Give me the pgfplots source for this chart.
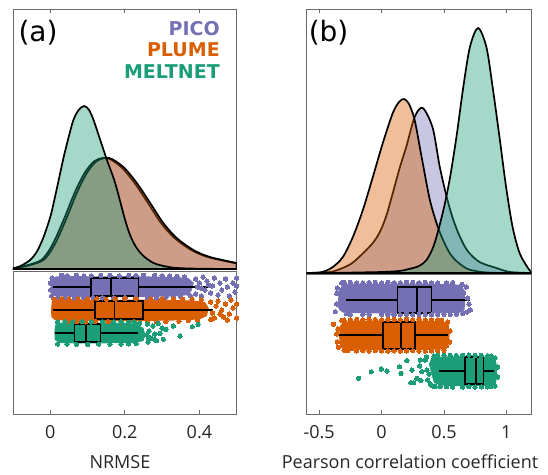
\documentclass[border=0pt]{standalone}
\usepackage{fontspec}
\setmainfont{Open Sans}
\newfontfamily\dejavu{DejaVu Sans}
\usepackage{pgfplots}
\pgfplotsset{compat=1.18}

\definecolor{pico}{HTML}{7570B3}
\definecolor{plume}{HTML}{D95F02}
\definecolor{melt}{HTML}{1B9E77}
\definecolor{framec}{HTML}{6A6A6A}
\definecolor{lbl}{HTML}{262626}

\pgfplotsset{
  rc/.style={
    scale only axis, anchor=north west,
    axis line style={framec, line width=0.9pt},
    tick style={framec, line width=0.9pt},
    major tick length=4.5pt, tick align=inside,
    ytick=\empty,
    tick label style={font=\fontsize{18}{20}\selectfont, text=lbl},
    xticklabel style={anchor=north, yshift=-8pt},
    label style={font=\fontsize{18}{20}\selectfont, text=lbl},
  },
  dens/.style={draw=black, line width=1.7pt, smooth, fill opacity=0.4},
  dots/.style={only marks, mark=*, color=#1, mark size=2.2pt, mark options={draw=#1, fill=#1, line width=0pt}},
  band/.style={fill=#1, draw=none},
  whisk/.style={draw=black, line width=1.7pt},
  boxx/.style={fill=#1, draw=black, line width=1.7pt, line join=miter},
}
\tikzset{
  legtxt/.style={anchor=base east, inner sep=0pt, font=\dejavu\bfseries\fontsize{19}{20}\selectfont, text=#1},
  panel/.style={anchor=base west, inner sep=0pt, font=\dejavu\fontsize{28}{30}\selectfont},
}

\begin{document}
\begin{tikzpicture}
\path[use as bounding box] (0,0) rectangle (548pt,474pt);

% ---------------- (a) densities
\begin{axis}[rc, at={(13pt,465pt)}, width=223.7pt, height=260pt,
  xmin=-0.1, xmax=0.5, ymin=0, ymax=260,
  xtick={0,0.2,0.4}, xticklabels={}, xtick pos=right]
\addplot[dens, fill=pico] coordinates {
 (-0.1,0.7) (-0.076,2.5) (-0.046,5.5) (-0.024,9) (-0.006,17) (0.012,29) (0.039,52)
 (0.065,76) (0.092,96) (0.119,108) (0.152,111) (0.19,102) (0.226,86) (0.262,66)
 (0.297,46) (0.333,31) (0.378,19) (0.422,12) (0.5,5.5)} \closedcycle;
\addplot[dens, fill=plume] coordinates {
 (-0.1,0.5) (-0.07,2.5) (-0.04,5.5) (-0.018,9) (0.0,17) (0.018,29) (0.045,52)
 (0.071,76) (0.098,96) (0.125,108) (0.158,111) (0.196,102) (0.232,86) (0.268,66)
 (0.303,46) (0.339,31) (0.384,19) (0.428,12) (0.5,6)} \closedcycle;
\addplot[dens, fill=melt] coordinates {
 (-0.1,0.5) (-0.08,3) (-0.054,9) (-0.035,18) (-0.018,32) (0.0,52) (0.009,66)
 (0.022,88) (0.036,112) (0.05,133) (0.062,149) (0.076,159) (0.091,163) (0.104,159)
 (0.116,149) (0.134,129) (0.152,109) (0.174,86) (0.2,50) (0.214,34) (0.23,22)
 (0.25,13) (0.277,6) (0.31,2.5) (0.34,1) (0.4,0.3) (0.5,0)} \closedcycle;
\node[panel] at (axis cs:-0.0857,227.6) {(a)};
\node[legtxt=pico] at (axis cs:0.455,233.7) {PICO};
\node[legtxt=plume] at (axis cs:0.455,212) {PLUME};
\node[legtxt=melt] at (axis cs:0.455,190) {MELTNET};
\end{axis}

% ---------------- (a) clouds and boxes
\begin{axis}[rc, at={(13pt,203pt)}, width=223.7pt, height=143pt,
  xmin=-0.1, xmax=0.5, ymin=0, ymax=143,
  xtick={0,0.2,0.4}, xticklabels={0,0.2,0.4}, xtick pos=left,
  xlabel={NRMSE},
  xlabel style={at={(axis description cs:0.478,0)}, anchor=north, inner sep=0pt, yshift=-41pt}]
% PICO
\addplot[band=pico] coordinates {
 (0.003,121) (0.002,128) (0.004,135) (0.015,137.5) (0.06,138) (0.12,137.5) (0.2,138)
 (0.27,137.5) (0.33,137) (0.37,136) (0.385,131) (0.38,124) (0.37,119) (0.33,117.5)
 (0.25,117) (0.15,117) (0.06,117) (0.012,118)};
\addplot[dots=pico] coordinates {
 (0.005,136) (0.03,138.5) (0.07,138.7) (0.11,138.3) (0.16,138.8) (0.21,138.5) (0.25,138.6)
 (0.3,138.2) (0.34,137.6) (0.004,118) (0.04,116.3) (0.09,116.5) (0.14,116.2) (0.2,116.4)
 (0.26,116.3) (0.31,116.8) (0.35,117.5) (0.001,124) (0.0,131)
 (0.045,138.2) (0.09,137.9) (0.135,138.5) (0.185,138.1) (0.23,138.4) (0.28,138.8) (0.32,137.9)
 (0.36,137.2) (0.02,116.8) (0.065,116.1) (0.115,116.4) (0.17,116.0) (0.23,116.5) (0.285,116.2)
 (0.33,116.9) (0.375,118.3)
 (0.39,135) (0.395,127) (0.39,120) (0.4,131) (0.405,118) (0.41,137) (0.415,124) (0.42,133)
 (0.43,121) (0.435,128) (0.44,136) (0.45,119) (0.455,131) (0.46,124) (0.47,135) (0.475,127)
 (0.48,118) (0.49,131) (0.495,122) (0.5,136) (0.5,128) (0.405,126) (0.425,129)};
% PLUME
\addplot[band=plume] coordinates {
 (0.003,97) (0.002,104) (0.004,112) (0.015,114) (0.08,114.5) (0.16,114) (0.24,114.5)
 (0.32,114) (0.38,113.5) (0.415,112) (0.425,106) (0.42,98) (0.4,94.5) (0.33,93.5)
 (0.24,93) (0.14,93) (0.05,93.2) (0.012,94)};
\addplot[dots=plume] coordinates {
 (0.01,114.5) (0.05,115) (0.1,115.2) (0.15,114.8) (0.2,115.3) (0.27,115) (0.33,114.9)
 (0.38,114.6) (0.02,92.6) (0.07,92.3) (0.12,92.5) (0.19,92.2) (0.26,92.4) (0.31,92.7)
 (0.37,93.3) (0.03,115.3) (0.075,114.9) (0.125,115.4) (0.175,115) (0.23,115.2) (0.3,115.1)
 (0.355,114.8) (0.405,114.2) (0.045,92.4) (0.095,92.1) (0.155,92.4) (0.225,92.3) (0.285,92.5)
 (0.345,92.8) (0.395,93.6)
 (0.43,112) (0.435,101) (0.44,96) (0.445,108) (0.45,113) (0.46,104) (0.465,97)
 (0.47,110) (0.48,100) (0.485,114) (0.49,106) (0.5,96) (0.5,110) (0.475,94) (0.455,100)
 (0.43,94.5)};
% MELTNET
\addplot[band=melt] coordinates {
 (0.012,74) (0.011,82) (0.013,89) (0.025,91.3) (0.08,91.6) (0.15,91.3) (0.2,91) (0.23,90)
 (0.25,86) (0.255,79) (0.25,73) (0.22,71) (0.15,70.7) (0.08,70.5) (0.03,70.8)};
\addplot[dots=melt] coordinates {
 (0.02,92) (0.06,92.2) (0.11,92) (0.17,92.1) (0.21,91.8) (0.24,91) (0.02,70) (0.07,69.8)
 (0.13,70) (0.19,70) (0.23,70.5) (0.04,92.3) (0.085,92.4) (0.14,92.2) (0.19,92.3) (0.225,91.5)
 (0.045,69.9) (0.1,69.6) (0.16,69.8) (0.21,70.2)
 (0.26,90) (0.265,83) (0.27,76) (0.262,72) (0.275,88)
 (0.28,80) (0.285,73.3) (0.294,80.7) (0.3,86) (0.303,74.7) (0.31,84.7) (0.263,75.7)
 (0.33,88) (0.348,78) (0.381,87.3) (0.396,89.7) (0.279,74.7) (0.259,79) (0.24,77)
 (0.29,90.5)};
% boxes
\addplot[whisk] coordinates {(0.006,126.8) (0.424,126.8)};
\addplot[boxx=pico] coordinates {(0.109,118) (0.237,118) (0.237,135.7) (0.109,135.7) (0.109,118) (0.237,118)};
\addplot[whisk] coordinates {(0.163,118) (0.163,135.7)};
\addplot[whisk] coordinates {(0.006,103.7) (0.436,103.7)};
\addplot[boxx=plume] coordinates {(0.119,94.7) (0.248,94.7) (0.248,112.7) (0.119,112.7) (0.119,94.7) (0.248,94.7)};
\addplot[whisk] coordinates {(0.172,94.7) (0.172,112.7)};
\addplot[whisk] coordinates {(0.012,80.8) (0.234,80.8)};
\addplot[boxx=melt] coordinates {(0.065,72) (0.135,72) (0.135,89.7) (0.065,89.7) (0.065,72) (0.135,72)};
\addplot[whisk] coordinates {(0.096,72) (0.096,89.7)};
\end{axis}

% ---------------- (b) densities
\begin{axis}[rc, at={(306.7pt,465pt)}, width=224.6pt, height=264pt,
  xmin=-0.6, xmax=1.2, ymin=0, ymax=264,
  xtick={-0.5,0,0.5,1}, xticklabels={}, xtick pos=right]
\addplot[dens, fill=pico] coordinates {
 (-0.6,0) (-0.5,0.3) (-0.39,1.5) (-0.26,8) (-0.18,16) (-0.07,30) (-0.01,42) (0.04,58) (0.09,80)
 (0.145,105) (0.2,127) (0.265,156) (0.33,165) (0.41,145) (0.465,107) (0.52,77) (0.57,55)
 (0.625,37) (0.69,22) (0.785,11) (0.92,5) (1.03,1) (1.2,0)} \closedcycle;
\addplot[dens, fill=plume] coordinates {
 (-0.6,0) (-0.5,0.5) (-0.45,2) (-0.39,6) (-0.31,16) (-0.23,36) (-0.15,63) (-0.07,96)
 (0.01,130) (0.09,160) (0.14,171) (0.18,174) (0.22,169) (0.265,153) (0.318,118) (0.38,77)
 (0.42,58) (0.46,43) (0.5,31) (0.55,19) (0.6,12) (0.65,7) (0.7,3.5) (0.8,1) (0.9,0.2) (1,0)} \closedcycle;
\addplot[dens, fill=melt] coordinates {
 (-0.4,0) (-0.2,0.5) (0,1) (0.14,2) (0.22,4) (0.3,7) (0.36,13) (0.42,28) (0.49,60)
 (0.545,93) (0.6,136) (0.655,186) (0.708,226) (0.773,245) (0.84,226) (0.89,186)
 (0.945,136) (0.998,86) (1.05,46) (1.106,20) (1.173,5) (1.2,1)} \closedcycle;
\node[panel] at (axis cs:-0.585,231.6) {(b)};
\end{axis}

% ---------------- (b) clouds and boxes
\begin{axis}[rc, at={(306.7pt,200pt)}, width=224.6pt, height=140pt,
  xmin=-0.6, xmax=1.2, ymin=0, ymax=140,
  xtick={-0.5,0,0.5,1}, xticklabels={-0.5,0,0.5,1}, xtick pos=left,
  xlabel={Pearson correlation coefficient},
  xlabel style={at={(axis description cs:0.46,0)}, anchor=north, inner sep=0pt, yshift=-41pt}]
% PICO
\addplot[band=pico] coordinates {
 (-0.34,104) (-0.35,113) (-0.34,124) (-0.31,129.5) (-0.2,130.3) (0,130) (0.2,130.5)
 (0.4,130.2) (0.56,130) (0.63,129) (0.665,124) (0.67,114) (0.665,104) (0.62,101)
 (0.4,100.5) (0.1,100.3) (-0.2,100.8) (-0.31,101.5)};
\addplot[dots=pico] coordinates {
 (-0.358,120.7) (-0.371,102.3) (-0.29,128) (-0.36,110) (-0.355,126) (-0.32,131)
 (-0.25,131.5) (-0.15,131) (-0.05,131.5) (0.1,131.2) (0.25,131.5) (0.4,131.2) (0.52,131)
 (0.63,127.3) (0.711,104) (0.658,120.7) (0.69,116) (0.68,127) (0.7,110) (0.685,102)
 (0.6,99.8) (0.45,99.5) (0.3,99.7) (0.15,99.4) (0.0,99.6) (-0.15,99.8) (-0.28,100.3)
 (-0.33,108) (0.645,129.5)
 (-0.3,131.8) (-0.2,131.2) (-0.1,131.4) (0,131.1) (0.05,131.7) (0.15,131.3) (0.2,131.8)
 (0.3,131.2) (0.35,131.5) (0.45,131.1) (0.57,131.4) (-0.25,99.6) (-0.1,99.3) (0.05,99.5)
 (0.1,99.2) (0.2,99.6) (0.25,99.3) (0.35,99.5) (0.4,99.2) (0.5,99.6) (0.55,99.3) (0.65,100.5)};
% PLUME
\addplot[band=plume] coordinates {
 (-0.33,67) (-0.34,76) (-0.335,88) (-0.3,92.5) (-0.2,93.3) (0,93.5) (0.2,93.3) (0.4,93)
 (0.5,92.3) (0.535,88) (0.545,78) (0.535,68) (0.5,64.5) (0.3,64) (0.1,63.8) (-0.1,64)
 (-0.25,64.5) (-0.31,65.5)};
\addplot[dots=plume] coordinates {
 (-0.385,89.7) (-0.345,66.7) (-0.238,65.7) (0.519,68) (0.52,87) (-0.36,80) (-0.355,72)
 (-0.35,85) (-0.3,94) (-0.2,94.5) (-0.05,94.4) (0.1,94.6) (0.25,94.3) (0.4,94) (0.48,93.5)
 (0.53,92) (0.55,83) (0.545,72) (0.45,63.2) (0.3,63) (0.15,63) (0,63.1) (-0.15,63.3)
 (-0.27,63.5) (-0.31,75)
 (-0.32,93.6) (-0.25,94.3) (-0.15,94.2) (-0.1,94.6) (0,94.3) (0.05,94.7) (0.15,94.2)
 (0.2,94.6) (0.3,94.5) (0.35,94.2) (0.45,93.9) (-0.3,63.8) (-0.2,63.2) (-0.1,63.0)
 (-0.05,63.4) (0.05,62.9) (0.1,63.2) (0.2,63.1) (0.25,63.3) (0.35,62.9) (0.4,63.2) (0.5,63.7)};
% MELTNET
\addplot[band=melt] coordinates {
 (0.42,31) (0.4,40) (0.38,50) (0.4,56.5) (0.5,57.5) (0.65,57.8) (0.8,57.5) (0.9,57)
 (0.92,52) (0.925,42) (0.92,32) (0.89,28.3) (0.75,28) (0.6,28) (0.48,28.5)};
\addplot[dots=melt] coordinates {
 (-0.184,35.7) (-0.083,42.3) (-0.002,45) (0.042,43) (0.144,47.3) (0.155,40.7) (0.203,53.3)
 (0.235,31.3) (0.257,31.3) (0.31,54) (0.305,48) (0.283,35.7) (0.323,42.3) (0.315,33.3)
 (0.243,44) (0.35,54) (0.363,44) (0.369,34) (0.39,30) (0.41,28) (0.36,57) (0.45,58.5)
 (0.55,58.8) (0.65,58.8) (0.75,58.6) (0.85,58.3) (0.91,56) (0.93,47) (0.93,37) (0.91,28)
 (0.8,27.2) (0.65,27) (0.52,27.3) (0.43,27.8) (0.38,40)
 (0.42,58) (0.5,58.6) (0.6,58.4) (0.7,58.9) (0.8,58.5) (0.88,58) (0.47,27.5) (0.57,27)
 (0.7,27.3) (0.75,26.9) (0.85,27.1) (0.88,27.5)};
% boxes
\addplot[whisk] coordinates {(-0.283,114.3) (0.706,114.3)};
\addplot[boxx=pico] coordinates {(0.128,101.3) (0.401,101.3) (0.401,127.3) (0.128,127.3) (0.128,101.3) (0.401,101.3)};
\addplot[whisk] coordinates {(0.283,101.3) (0.283,127.3)};
\addplot[whisk] coordinates {(-0.34,78.8) (0.53,78.8)};
\addplot[boxx=plume] coordinates {(0.013,65.3) (0.267,65.3) (0.267,92.3) (0.013,92.3) (0.013,65.3) (0.267,65.3)};
\addplot[whisk] coordinates {(0.155,65.3) (0.155,92.3)};
\addplot[whisk] coordinates {(0.457,43.3) (0.904,43.3)};
\addplot[boxx=melt] coordinates {(0.671,30) (0.818,30) (0.818,56.7) (0.671,56.7) (0.671,30) (0.818,30)};
\addplot[whisk] coordinates {(0.759,30) (0.759,56.7)};
\end{axis}
\end{tikzpicture}
\end{document}
